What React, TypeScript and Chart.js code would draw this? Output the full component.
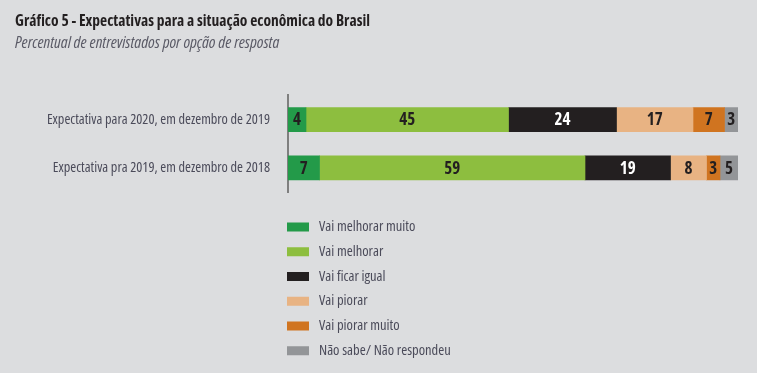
import { useEffect, useRef } from "react";
import { Chart, registerables } from "chart.js";

Chart.register(...registerables);

const categories = [
  "Expectativa para 2020, em dezembro de 2019",
  "Expectativa pra 2019, em dezembro de 2018",
];
const seriesNames = [
  "Vai melhorar muito",
  "Vai melhorar",
  "Vai ficar igual",
  "Vai piorar",
  "Vai piorar muito",
  "Não sabe/ Não respondeu",
];
const melhorarMuito = [4, 7];
const melhorar = [45, 59];
const ficarIgual = [24, 19];
const piorar = [17, 8];
const piorarMuito = [7, 3];
const naoSabe = [3, 5];
const seriesValues = [melhorarMuito, melhorar, ficarIgual, piorar, piorarMuito, naoSabe];
const seriesColors = ["#239a49", "#8dbe3f", "#231f20", "#e8b383", "#d07420", "#939598"];
const labelColors = ["#231f20", "#231f20", "#ffffff", "#231f20", "#231f20", "#231f20"];

const BG = "#dcdddf";
const TEXT = "#4b4b5a";
const FAMILY = "'Open Sans', sans-serif";

const labelsPlugin = {
  id: "segmentLabels",
  afterDatasetsDraw(chart: any) {
    const ctx = chart.ctx;
    const area = chart.chartArea;
    ctx.save();
    ctx.font = `condensed bold 17px ${FAMILY}`;
    ctx.textAlign = "center";
    ctx.textBaseline = "middle";
    chart.data.datasets.forEach((ds: any, i: number) => {
      const meta = chart.getDatasetMeta(i);
      meta.data.forEach((el: any, j: number) => {
        const right = Math.min(el.x, area.right);
        const left = Math.max(el.base, area.left);
        const cx = (left + right) / 2;
        ctx.fillStyle = labelColors[i];
        ctx.fillText(String(ds.data[j]), cx, el.y + 1);
      });
    });
    ctx.restore();
  },
};

const legendPlugin = {
  id: "verticalLegend",
  afterDraw(chart: any) {
    const ctx = chart.ctx;
    const x0 = chart.chartArea.left;
    const yStart = 227;
    const step = 24.75;
    ctx.save();
    ctx.font = `condensed 14.5px ${FAMILY}`;
    ctx.textAlign = "left";
    ctx.textBaseline = "middle";
    chart.data.datasets.forEach((ds: any, i: number) => {
      const cy = yStart + i * step;
      ctx.fillStyle = ds.backgroundColor;
      ctx.fillRect(x0 - 1, cy - 4.5, 22, 9);
      ctx.fillStyle = TEXT;
      ctx.fillText(ds.label, x0 + 31, cy);
    });
    ctx.restore();
  },
};

export default function App() {
  const ref = useRef<HTMLCanvasElement>(null);
  useEffect(() => {
    document.body.style.margin = "0";
    document.body.style.background = BG;
    const chart = new Chart(ref.current!, {
      type: "bar",
      data: {
        labels: categories,
        datasets: seriesNames.map((name, i) => ({
          label: name,
          data: seriesValues[i],
          backgroundColor: seriesColors[i],
          borderWidth: 0,
          barThickness: 24,
          clip: 0,
        })),
      },
      options: {
        indexAxis: "y",
        responsive: false,
        animation: false,
        layout: { padding: { left: 15, right: 19, top: 0, bottom: 181 } },
        scales: {
          x: { stacked: true, min: 0, max: 100, display: false },
          y: {
            stacked: true,
            grid: { display: false, drawTicks: false },
            border: { display: true, color: "#7f7f7f", width: 2 },
            ticks: { padding: 18, color: TEXT, font: { family: FAMILY, size: 14.3, weight: "condensed" } },
            afterFit(scale: any) {
              scale.width = 273;
            },
          },
        },
        plugins: {
          legend: { display: false },
          tooltip: { enabled: false },
          title: {
            display: true,
            text: "Gráfico 5 - Expectativas para a situação econômica do Brasil",
            align: "start",
            color: "#231f20",
            font: { family: FAMILY, size: 15.5, weight: "condensed bold" },
            padding: { top: 12, bottom: 2 },
          },
          subtitle: {
            display: true,
            text: "Percentual de entrevistados por opção de resposta",
            align: "start",
            color: "#5a5a66",
            font: { family: FAMILY, size: 16.5, style: "italic", weight: "condensed" },
            padding: { top: 1, bottom: 42 },
          },
        },
      } as any,
      plugins: [labelsPlugin, legendPlugin],
    });
    return () => chart.destroy();
  }, []);
  return <canvas ref={ref} width={757} height={373} style={{ display: "block" }} />;
}
